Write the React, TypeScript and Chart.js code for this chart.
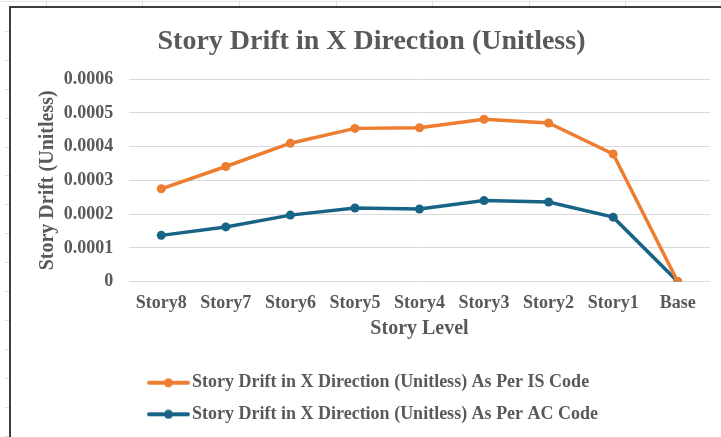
import React, { useEffect, useRef } from 'react';
import { Chart, registerables } from 'chart.js';

Chart.register(...registerables);

const chartTitle = 'Story Drift in X Direction (Unitless)';
const xAxisTitle = 'Story Level';
const yAxisTitle = 'Story Drift (Unitless)';
const categories = ['Story8', 'Story7', 'Story6', 'Story5', 'Story4', 'Story3', 'Story2', 'Story1', 'Base'];
const seriesNames = [
  'Story Drift in X Direction (Unitless) As Per IS Code',
  'Story Drift in X Direction (Unitless) As Per AC Code',
];
const isCodeDrift = [0.000275, 0.000341, 0.00041, 0.000454, 0.000456, 0.000481, 0.00047, 0.000378, 0];
const acCodeDrift = [0.000137, 0.000162, 0.000197, 0.000218, 0.000215, 0.00024, 0.000236, 0.000191, 0];
const yTickLabels = ['0', '0.0001', '0.0002', '0.0003', '0.0004', '0.0005', '0.0006'];
const seriesColors = ['#ED7D31', '#186487'];

const FONT = "'Times New Roman', 'Liberation Serif', serif";
const TEXT = '#595959';

// spreadsheet decoration (background cells)
const colLines = [46, 142, 239, 336, 432, 529, 625];
const rowTicks = [31, 60, 89, 118, 147, 175, 204, 233, 262, 291, 320, 349, 378, 407, 436];

function makeIcon(color: string) {
  const c = document.createElement('canvas');
  c.width = 43;
  c.height = 10;
  const g = c.getContext('2d')!;
  g.strokeStyle = color;
  g.lineWidth = 4;
  g.lineCap = 'round';
  g.beginPath();
  g.moveTo(2, 5);
  g.lineTo(41, 5);
  g.stroke();
  g.fillStyle = color;
  g.beginPath();
  g.arc(21.5, 5, 4.5, 0, Math.PI * 2);
  g.fill();
  return c;
}

const legendShift = {
  id: 'legendShift',
  afterLayout(chart: any) {
    const lg = chart.legend;
    if (lg) lg.left = chart.chartArea.left + 11.4;
  },
};

export default function App() {
  const ref = useRef<HTMLCanvasElement>(null);

  useEffect(() => {
    if (!ref.current) return;
    const icons = seriesColors.map(makeIcon);
    const series = [isCodeDrift, acCodeDrift];
    const chart = new Chart(ref.current, {
      type: 'line',
      data: {
        labels: categories,
        datasets: series.map((d, i) => ({
          label: seriesNames[i],
          data: d,
          borderColor: seriesColors[i],
          backgroundColor: seriesColors[i],
          pointBackgroundColor: seriesColors[i],
          pointBorderColor: seriesColors[i],
          borderWidth: 3.5,
          pointRadius: 4.5,
          pointBorderWidth: 0,
          tension: 0,
        })),
      },
      plugins: [legendShift],
      options: {
        responsive: false,
        animation: false,
        devicePixelRatio: 1,
        layout: { padding: { left: 22, right: 11, top: 0, bottom: 3.7 } },
        plugins: {
          title: {
            display: true,
            text: chartTitle,
            color: TEXT,
            font: { family: FONT, size: 28, weight: 'bold' },
            padding: { top: 17, bottom: 20.5 },
          },
          legend: {
            position: 'bottom',
            align: 'start',
            labels: {
              usePointStyle: true,
              pointStyleWidth: 29,
              padding: 13.6,
              color: TEXT,
              font: { family: FONT, size: 18, weight: 'bold' },
              generateLabels: (c: any) => {
                const items = (Chart.defaults as any).plugins.legend.labels.generateLabels(c);
                items.forEach((it: any) => {
                  it.pointStyle = icons[it.datasetIndex];
                  it.fontColor = TEXT;
                });
                return items;
              },
            },
          },
          tooltip: { enabled: false },
        },
        scales: {
          x: {
            offset: true,
            grid: { display: false, drawTicks: false },
            border: { display: false },
            afterFit: (s: any) => {
              s.height = 78.5;
            },
            ticks: {
              color: TEXT,
              padding: 10.7,
              maxRotation: 0,
              autoSkip: false,
              font: { family: FONT, size: 18, weight: 'bold' },
            },
            title: {
              display: true,
              text: xAxisTitle,
              color: TEXT,
              font: { family: FONT, size: 20, weight: 'bold' },
              padding: { top: 5.4, bottom: 19.2 },
            },
          },
          y: {
            min: 0,
            max: 0.0006,
            grid: { color: '#d9d9d9', lineWidth: 1, drawTicks: false },
            border: { display: false },
            afterFit: (s: any) => {
              s.width = 96;
            },
            ticks: {
              stepSize: 0.0001,
              color: TEXT,
              padding: 15.7,
              font: { family: FONT, size: 18, weight: 'bold' },
              callback: (_v: any, i: number) => yTickLabels[i],
            },
            title: {
              display: true,
              text: yAxisTitle,
              color: TEXT,
              font: { family: FONT, size: 20, weight: 'bold' },
              padding: { top: 3, bottom: 3.8 },
            },
          },
        },
      } as any,
    });
    return () => chart.destroy();
  }, []);

  return (
    <div
      style={{
        position: 'fixed',
        left: 0,
        top: 0,
        width: 721,
        height: 437,
        background: '#ffffff',
        overflow: 'hidden',
      }}
    >
      <div style={{ position: 'absolute', left: 0, top: 1, width: 721, height: 1, background: '#e3e3e3' }} />
      {colLines.map((x) => (
        <div key={'c' + x} style={{ position: 'absolute', left: x, top: 0, width: 1, height: 6, background: '#e3e3e3' }} />
      ))}
      {rowTicks.map((y) => (
        <div key={'r' + y} style={{ position: 'absolute', left: 5, top: y, width: 4, height: 1, background: '#dcdcdc' }} />
      ))}
      <div
        style={{
          position: 'absolute',
          left: 9,
          top: 6,
          width: 720,
          height: 440,
          borderLeft: '2px solid #3c3c3c',
          borderTop: '2px solid #3c3c3c',
          background: '#ffffff',
        }}
      />
      <canvas
        ref={ref}
        width={710}
        height={429}
        style={{ position: 'absolute', left: 11, top: 8, width: 710, height: 429 }}
      />
    </div>
  );
}
